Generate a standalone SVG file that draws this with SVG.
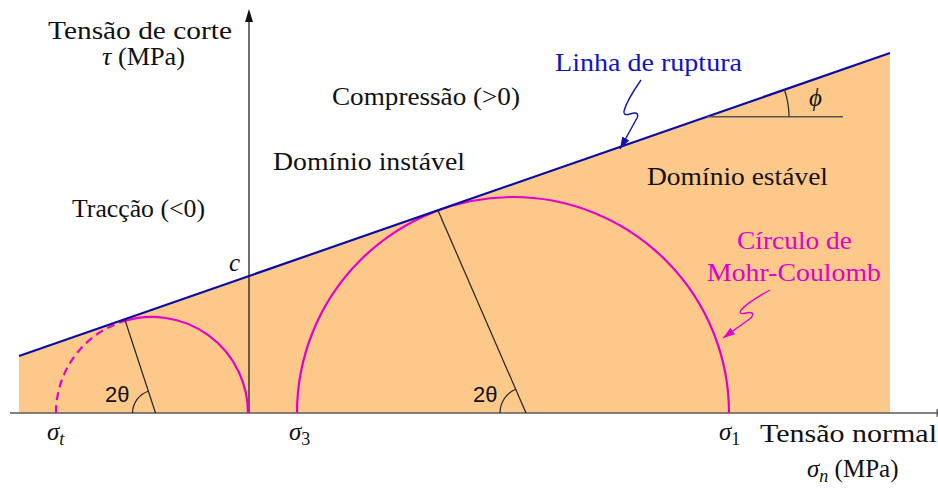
<svg xmlns="http://www.w3.org/2000/svg" width="938" height="488" viewBox="0 0 938 488">
  <defs>
    <style>
      .lbl { font-family: "Liberation Serif", "DejaVu Serif", serif; font-size: 25px; fill: #111; }
      .it { font-style: italic; }
      .ang { font-family: "Liberation Sans", "DejaVu Sans", sans-serif; font-size: 22px; fill: #111; }
      .blue { fill: #1212c4; }
      .mag { fill: #e000cc; }
      .circ { fill: none; stroke: #e300cf; stroke-width: 2.2; }
      .thin { fill: none; stroke: #222; stroke-width: 1.2; }
      .axis { fill: none; stroke: #5a5a5a; stroke-width: 1.6; }
    </style>
    <marker id="arrBlue" markerUnits="userSpaceOnUse" markerWidth="14" markerHeight="10" refX="12" refY="5" orient="auto">
      <path d="M0,1 L12,5 L0,9 Z" fill="#1212b0"/>
    </marker>
    <marker id="arrMag" markerUnits="userSpaceOnUse" markerWidth="14" markerHeight="10" refX="12" refY="5" orient="auto">
      <path d="M0,1 L12,5 L0,9 Z" fill="#e300cf"/>
    </marker>
  </defs>

  <rect x="0" y="0" width="938" height="488" fill="#ffffff"/>

  <g id="stable-domain">
    <polygon points="19,413 19,356 890,53 890,413" fill="#fdc98a"/>
  </g>

  <g id="axes">
    <line class="axis" x1="10" y1="413" x2="944" y2="413"/>
    <polygon points="948,413 936.5,409 936.5,417" fill="#5a5a5a"/>
    <line x1="249" y1="413" x2="249" y2="20" stroke="#111" stroke-width="1.2"/>
    <polygon points="249,9 245,22 253,22" fill="#111"/>
  </g>

  <g id="mohr-circles">
    <path class="circ" d="M122,321.8 A96,96 0 0 1 248,413"/>
    <path class="circ" d="M56,413 A96,96 0 0 1 122,321.8" stroke-dasharray="8 5"/>
    <path class="circ" d="M297,413 A216,216 0 0 1 729,413"/>
  </g>

  <g id="failure-line">
    <line x1="19" y1="356" x2="890" y2="53" stroke="#0c0c9c" stroke-width="2.2"/>
  </g>

  <g id="angles">
    <line class="thin" x1="125" y1="320" x2="155.5" y2="413"/>
    <path class="thin" d="M132.5,413 A23,23 0 0 1 148.3,391.2"/>
    <line class="thin" x1="438" y1="210.5" x2="526" y2="413"/>
    <path class="thin" d="M500,413 A26,26 0 0 1 515.6,389.2"/>
    <line x1="707" y1="116.7" x2="843" y2="116.7" stroke="#555" stroke-width="1.4"/>
    <path d="M789,116.7 A82,82 0 0 0 784.4,89.8" fill="none" stroke="#333" stroke-width="1.3"/>
  </g>

  <g id="connectors">
    <path d="M641,80 Q627,100 624,111 Q623,116 630,114 Q639,111 637.5,117 L620,149" fill="none" stroke="#1212b0" stroke-width="1.4" marker-end="url(#arrBlue)"/>
    <path d="M770,290 Q748,302 741,310 Q738,315 746,313 Q756,311 751,318 L723,338" fill="none" stroke="#e300cf" stroke-width="1.4" marker-end="url(#arrMag)"/>
  </g>

  <g id="labels">
    <text class="lbl" x="48" y="39" textLength="184" lengthAdjust="spacingAndGlyphs">Tensão de corte</text>
    <text class="lbl" x="102" y="65" textLength="83" lengthAdjust="spacingAndGlyphs"><tspan class="it">τ</tspan> (MPa)</text>
    <text class="lbl" x="332" y="105" textLength="188" lengthAdjust="spacingAndGlyphs">Compressão (&gt;0)</text>
    <text class="lbl" x="273" y="170" textLength="192" lengthAdjust="spacingAndGlyphs">Domínio instável</text>
    <text class="lbl" x="72" y="217" textLength="133" lengthAdjust="spacingAndGlyphs">Tracção (&lt;0)</text>
    <text class="lbl it" x="229" y="271">c</text>
    <text class="lbl" x="647" y="185" textLength="181" lengthAdjust="spacingAndGlyphs">Domínio estável</text>
    <text class="lbl mag" x="737" y="249" textLength="115" lengthAdjust="spacingAndGlyphs">Círculo de</text>
    <text class="lbl mag" x="707" y="281" textLength="174" lengthAdjust="spacingAndGlyphs">Mohr-Coulomb</text>
    <text class="lbl blue" x="555" y="71" textLength="187" lengthAdjust="spacingAndGlyphs">Linha de ruptura</text>
    <text class="lbl it" x="809" y="106">ϕ</text>
    <text class="ang" x="105" y="402" font-size="23">2θ</text>
    <text class="ang" x="473" y="402" font-size="23">2θ</text>
    <text class="lbl" x="47" y="440"><tspan class="it">σ</tspan><tspan class="it" font-size="18" dy="5">t</tspan></text>
    <text class="lbl" x="289" y="440"><tspan class="it">σ</tspan><tspan font-size="18" dy="5">3</tspan></text>
    <text class="lbl" x="719" y="440"><tspan class="it">σ</tspan><tspan font-size="18" dy="5">1</tspan></text>
    <text class="lbl" x="760" y="442" textLength="177" lengthAdjust="spacingAndGlyphs">Tensão normal</text>
    <text class="lbl" x="807" y="477"><tspan class="it">σ</tspan><tspan class="it" font-size="18" dy="5">n</tspan><tspan dy="-5"> (MPa)</tspan></text>
  </g>
</svg>
